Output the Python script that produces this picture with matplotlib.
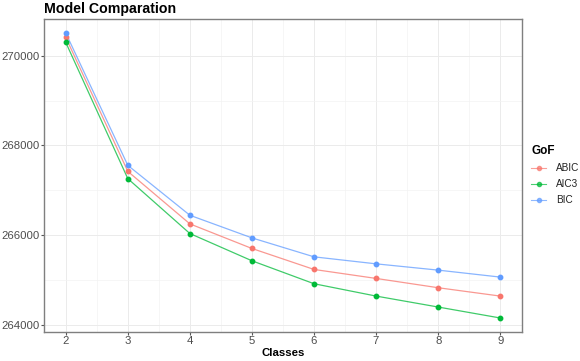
import matplotlib
matplotlib.use("Agg")
import matplotlib.pyplot as plt
from matplotlib.ticker import MultipleLocator

plt.rcParams['font.family'] = ['Liberation Sans', 'DejaVu Sans']

classes = [2, 3, 4, 5, 6, 7, 8, 9]
abic = [270407, 267422, 266252, 265704, 265237, 265037, 264830, 264644]
aic3 = [270296, 267260, 266037, 265430, 264919, 264644, 264400, 264156]
bic = [270504, 267556, 266444, 265940, 265518, 265362, 265222, 265067]

series = [("ABIC", abic, "#F8766D"), ("AIC3", aic3, "#00BA38"), ("BIC", bic, "#619CFF")]

fig = plt.figure(figsize=(5.8, 3.61), dpi=100)
ax = fig.add_axes([44 / 580, 1 - 332 / 361, (522 - 44) / 580, (332 - 18.7) / 361])

for name, vals, col in series:
    ax.plot(classes, vals, color=col, lw=0.9, alpha=0.75, zorder=3)
    ax.plot(classes, vals, color=col, lw=0, marker="o", markersize=3.2, label=name, zorder=4)

ax.set_xlim(1.65, 9.35)
ax.set_ylim(263844, 270822)
ax.xaxis.set_major_locator(MultipleLocator(1))
ax.xaxis.set_minor_locator(MultipleLocator(0.5))
ax.yaxis.set_major_locator(MultipleLocator(2000))
ax.yaxis.set_minor_locator(MultipleLocator(1000))
ax.grid(which="major", color="#EBEBEB", lw=0.7)
ax.grid(which="minor", color="#F3F3F3", lw=0.5)
ax.set_axisbelow(True)
for s in ax.spines.values():
    s.set_color("#7F7F7F")
    s.set_linewidth(1.0)
ax.tick_params(which="major", length=2.2, color="#555555", labelcolor="#4D4D4D", labelsize=8.2, pad=1)
ax.tick_params(which="minor", length=0)

ax.set_xlabel("Classes", fontweight="bold", fontsize=8.2, labelpad=1)
ax.set_title("Model Comparation", fontweight="bold", fontsize=10.2, loc="left", x=0, pad=4)

handles = []
for name, vals, col in series:
    h, = ax.plot([], [], color=col, lw=0.8, marker="o", markersize=3, alpha=0.7)
    handles.append(h)
leg = fig.legend(handles, [s[0] for s in series], title="GoF", loc="upper left",
                 bbox_to_anchor=(527 / 580, 1 - 141 / 361), frameon=False,
                 fontsize=7.2, title_fontproperties={"weight": "bold", "size": 8.5},
                 handlelength=1.5, labelspacing=0.6, handletextpad=1.0, borderaxespad=0)
leg._legend_box.align = "left"
for t in leg.get_texts():
    t.set_color("#222222")

fig.savefig("out.png", dpi=100)
